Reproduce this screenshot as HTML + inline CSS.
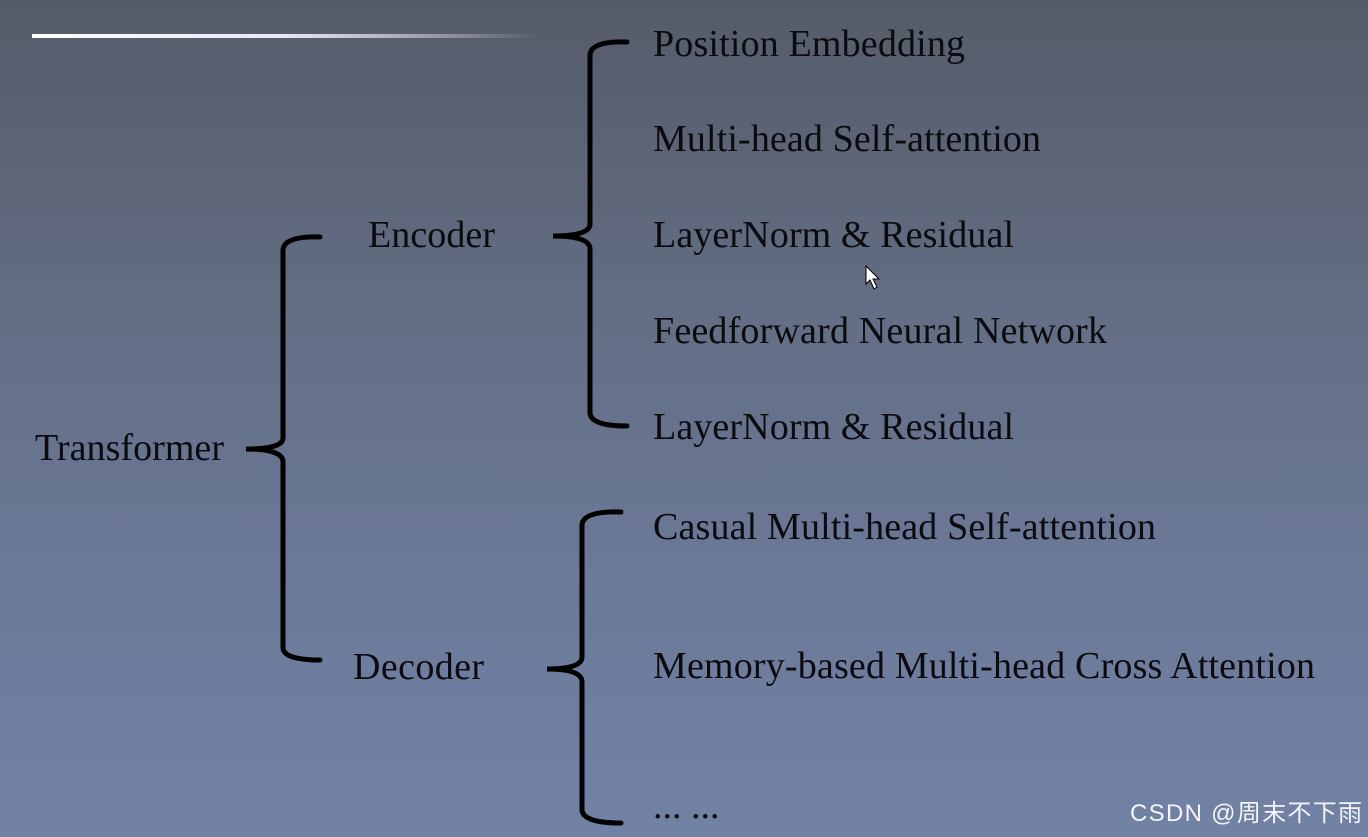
<!DOCTYPE html>
<html><head><meta charset="utf-8"><style>
html,body{margin:0;padding:0;}
body{width:1368px;height:837px;overflow:hidden;background:linear-gradient(to bottom,#555b68 0%,#646f86 40%,#6d7b9b 75%,#7182a5 100%);}
svg{display:block}
text{font-family:"Liberation Serif",serif;font-size:38px;fill:#0b0b0f;}
</style></head><body>
<svg width="1368" height="837" viewBox="0 0 1368 837">
<defs><linearGradient id="ln" x1="0" x2="1"><stop offset="0" stop-color="#fff"/><stop offset="0.5" stop-color="#e8e8ee"/><stop offset="1" stop-color="#fff" stop-opacity="0"/></linearGradient></defs>
<rect x="32" y="34" width="505" height="4" fill="url(#ln)"/>
<g fill="none" stroke="#000" stroke-width="5" stroke-linecap="round">
<path d="M320 237 Q284 236 283 250 L283 438 Q283 449 246 449 Q283 449 283 462 L283 648 Q284 660 320 660"/>
<path d="M627 42 Q591 41 590 55 L590 224 Q590 236 553 236 Q590 236 590 249 L590 413 Q591 426 627 426"/>
<path d="M621 512 Q583 511 582 525 L582 657 Q582 669 547 669 Q582 669 582 682 L582 810 Q583 823 621 823"/>
</g>
<text x="653" y="56" textLength="312">Position Embedding</text>
<text x="653" y="151" textLength="388">Multi-head Self-attention</text>
<text x="653" y="247" textLength="361">LayerNorm &amp; Residual</text>
<text x="653" y="343" textLength="454">Feedforward Neural Network</text>
<text x="653" y="439" textLength="361">LayerNorm &amp; Residual</text>
<text x="653" y="539" textLength="503">Casual Multi-head Self-attention</text>
<text x="653" y="678" textLength="662">Memory-based Multi-head Cross Attention</text>
<text x="653" y="818">... ...</text>
<text x="368" y="247" textLength="127">Encoder</text>
<text x="353" y="679" textLength="131">Decoder</text>
<text x="35" y="460" textLength="189">Transformer</text>
<text x="1130" y="821" textLength="232" style="font-family:'Liberation Sans','Noto Sans CJK SC',sans-serif;font-size:24px;fill:#f4f4f8">CSDN @周末不下雨</text>
<path d="M866 266 L866 284 L870 280 L874 289 L877 287 L873 279 L879 279 Z" fill="#fff" stroke="#000" stroke-width="1"/>
</svg>
</body></html>
